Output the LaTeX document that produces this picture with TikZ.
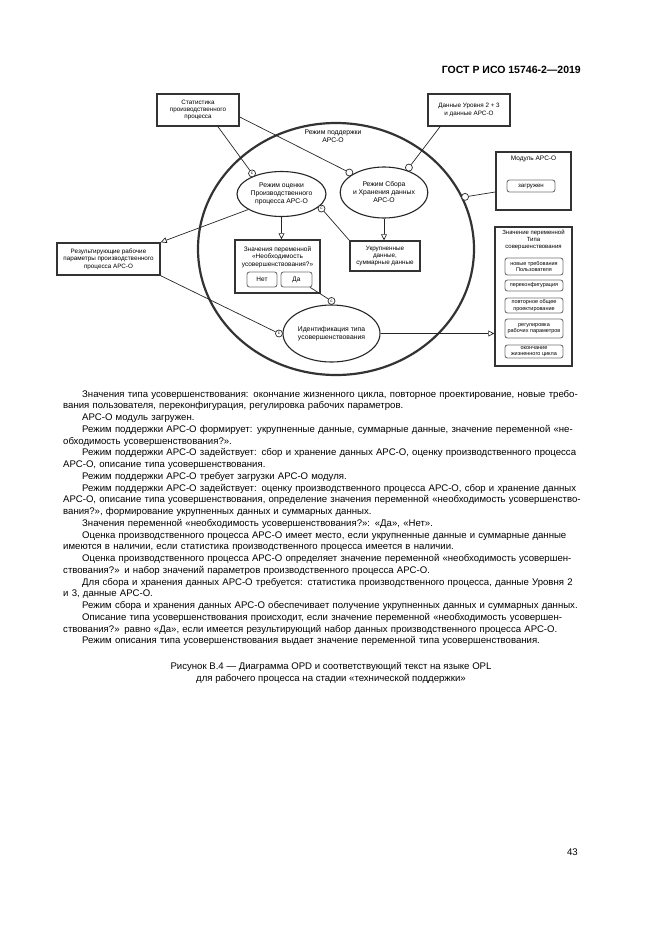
\documentclass[tikz,border=0pt]{standalone}
\usepackage{fontspec}
\setmainfont{Liberation Sans}
\usetikzlibrary{arrows.meta,shapes.geometric,calc}
\newcommand{\jl}[1]{\makebox[518pt][s]{#1}\par}
\newcommand{\ijl}[1]{\hspace*{19pt}\makebox[499pt][s]{#1}\par}
\newcommand{\il}[1]{\hspace*{19pt}#1\par}
\newcommand{\pl}[1]{#1\par}
\begin{document}
\begin{tikzpicture}[x=1pt,y=-1pt,
  every node/.style={inner sep=0pt},
  objbox/.style={draw=black!80, line width=1.5pt, fill=white, align=center, font=\fontsize{6.3}{7.4}\selectfont},
  proc/.style={ellipse, draw=black!85, line width=1.1pt, fill=white, align=center, font=\fontsize{6.8}{8}\selectfont},
  stbox/.style={draw=black!55, line width=0.9pt, rounded corners=2.5pt, fill=white, align=center, font=\fontsize{6.1}{7}\selectfont},
  tbox/.style={stbox, minimum width=58pt, font=\fontsize{5.5}{6.4}\selectfont},
  lbl/.style={align=center, font=\fontsize{6.5}{7.4}\selectfont},
  link/.style={draw=black!85, line width=0.7pt},
  reslink/.style={link, -{Triangle[open, length=6pt, width=6pt, fill=white]}},
  instr/.style={circle, draw=black!85, line width=0.7pt, fill=white, minimum size=7pt},
  cond/.style={instr, font=\fontsize{4.5}{4.5}\selectfont, text=black},
]
\useasboundingbox (0,0) rectangle (661,935);

% header
\node[anchor=base east, font=\bfseries\fontsize{10.5}{12}\selectfont] (hdr) at (581,73) {ГОСТ Р ИСО 15746-2—2019};

% system ellipse
\node[ellipse, draw=black!80, line width=2.2pt, minimum width=276pt, minimum height=252pt] (sys) at (336,249) {};
\node[lbl, font=\fontsize{6.8}{7.6}\selectfont] (sysl) at (333,136) {Режим поддержки\\АРС-О};

% processes
\node[proc, minimum width=89pt, minimum height=45pt] (oc) at (281.5,194) {Режим оценки\\Производственного\\процесса АРС-О};
\node[proc, minimum width=82pt, minimum height=51pt] (sb) at (384,192.5) {Режим Сбора\\и Хранения данных\\АРС-О};
\node[proc, minimum width=97pt, minimum height=57pt] (id) at (331.5,333.5) {Идентификация типа\\усовершенствования};

% objects
\node[objbox, minimum width=82pt, minimum height=32pt] (stat) at (198,110) {Статистика\\производственного\\процесса};
\node[objbox, minimum width=82pt, minimum height=32pt] (dan) at (469,110) {Данные Уровня 2 + 3\\и данные АРС-О};
\node[objbox, minimum width=75pt, minimum height=58pt] (mod) at (533.5,181) {};
\node[lbl] (modl) at (533.5,159) {Модуль АРС-О};
\node[stbox, minimum width=48pt, minimum height=12pt] (zag) at (531,186) {загружен};

\node[objbox, minimum width=77pt, minimum height=139pt] (ztyp) at (533.5,296.5) {};
\node[lbl, font=\fontsize{6}{6.9}\selectfont] (ztypl) at (533.5,239.5) {Значение переменной\\Типа\\совершенствования};
\node[tbox, minimum height=17pt] (s1) at (534,266.5) {новые требования\\Пользователя};
\node[tbox, minimum height=11pt] (s2) at (534,285.5) {переконфигурация};
\node[tbox, minimum height=15pt] (s3) at (534,305.5) {повторное общее\\проектирование};
\node[tbox, minimum height=19pt] (s4) at (534,328.5) {регулировка\\рабочих параметров};
\node[tbox, minimum height=13pt] (s5) at (534,351.5) {окончание\\жизненного цикла};

\node[objbox, minimum width=85pt, minimum height=53pt] (zn) at (277.5,266.5) {};
\node[lbl] (znl) at (277.5,257) {Значения переменной\\«Необходимость\\усовершенствования?»};
\node[stbox, minimum width=30pt, minimum height=15pt, font=\fontsize{6.5}{7}\selectfont] (net) at (262,279.5) {Нет};
\node[stbox, minimum width=31pt, minimum height=15pt, font=\fontsize{6.5}{7}\selectfont] (da) at (296.5,279.5) {Да};

\node[objbox, minimum width=70pt, minimum height=30pt] (uk) at (385,256) {Укрупненные\\данные,\\суммарные данные};
\node[objbox, minimum width=103pt, minimum height=32pt] (res) at (108.5,259) {Результирующие рабочие\\параметры производственного\\процесса АРС-О};

% link ends
\node[cond] (c1) at ($(oc.145)!-3.5pt!(oc.center)$) {c};
\node[instr] (c2) at ($(sb.150)!-3.5pt!(sb.center)$) {};
\node[instr] (c3) at ($(sb.45)!-3.5pt!(sb.center)$) {};
\node[instr] (c4) at ($(sys.22)!-2pt!(sys.center)$) {};
\node[cond] (c5) at ($(oc.-20)!-3.5pt!(oc.center)$) {c};
\node[cond] (c6) at ($(id.90)!-3.5pt!(id.center)$) {c};
\node[cond] (c7) at ($(id.180)!-3.5pt!(id.center)$) {c};

% links
\draw[link] ([xshift=20pt]stat.south) -- (c1);
\draw[link] ([yshift=-7pt]stat.east) -- (c2);
\draw[link] ([xshift=-29pt]dan.south) -- (c3);
\draw[link] ([yshift=-11pt]mod.west) -- (c4);
\draw[reslink] (oc.205) -- (res.north east);
\draw[reslink] (oc.south) -- (oc.south |- zn.north);
\draw[reslink] (sb.south) -- (sb.south |- uk.north);
\draw[link] (uk.north west) -- (c5);
\draw[link] (da.-30) -- (c6);
\draw[link] (res.south east) -- (c7);
\draw[reslink] (id.east) -- (id.east -| ztyp.west);

% OPL text
\node[anchor=north west, text width=518pt, align=left, font=\fontsize{9.6}{11.75}\selectfont] (opl) at (63,390) {%
\ijl{Значения типа усовершенствования: окончание жизненного цикла, повторное проектирование, новые требо-}
\pl{вания пользователя, переконфигурация, регулировка рабочих параметров.}
\il{АРС-О модуль загружен.}
\ijl{Режим поддержки АРС-О формирует: укрупненные данные, суммарные данные, значение переменной «не-}
\pl{обходимость усовершенствования?».}
\ijl{Режим поддержки АРС-О задействует: сбор и хранение данных АРС-О, оценку производственного процесса}
\pl{АРС-О, описание типа усовершенствования.}
\il{Режим поддержки АРС-О требует загрузки АРС-О модуля.}
\ijl{Режим поддержки АРС-О задействует: оценку производственного процесса АРС-О, сбор и хранение данных}
\jl{АРС-О, описание типа усовершенствования, определение значения переменной «необходимость усовершенство-}
\pl{вания?», формирование укрупненных данных и суммарных данных.}
\il{Значения переменной «необходимость усовершенствования?»: «Да», «Нет».}
\ijl{Оценка производственного процесса АРС-О имеет место, если укрупненные данные и суммарные данные}
\pl{имеются в наличии, если статистика производственного процесса имеется в наличии.}
\ijl{Оценка производственного процесса АРС-О определяет значение переменной «необходимость усовершен-}
\pl{ствования?» и набор значений параметров производственного процесса АРС-О.}
\ijl{Для сбора и хранения данных АРС-О требуется: статистика производственного процесса, данные Уровня 2}
\pl{и 3, данные АРС-О.}
\ijl{Режим сбора и хранения данных АРС-О обеспечивает получение укрупненных данных и суммарных данных.}
\ijl{Описание типа усовершенствования происходит, если значение переменной «необходимость усовершен-}
\jl{ствования?» равно «Да», если имеется результирующий набор данных производственного процесса АРС-О.}
\il{Режим описания типа усовершенствования выдает значение переменной типа усовершенствования.}
};

% caption
\node[anchor=north, align=center, font=\fontsize{9.6}{11.75}\selectfont] (cap) at (331,662) {Рисунок В.4 — Диаграмма OPD и соответствующий текст на языке OPL\\для рабочего процесса на стадии «технической поддержки»};

% page number
\node[anchor=base east, font=\fontsize{9.6}{11}\selectfont] (pg) at (578,855) {43};
\end{tikzpicture}
\end{document}
